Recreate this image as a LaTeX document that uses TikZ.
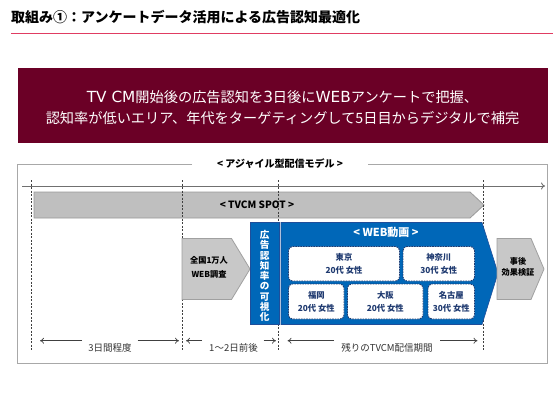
\documentclass[tikz,border=0pt]{standalone}
\usepackage{fontspec}
\setmainfont{Noto Sans CJK JP}
\newfontfamily\latwfont{DejaVu Sans}
\newcommand\latwide[1]{{\latwfont\fontsize{15.3}{21.6}\selectfont #1}}
\usetikzlibrary{arrows.meta}
\definecolor{maroonbox}{HTML}{6B0026}
\definecolor{titleline}{HTML}{E03C62}
\definecolor{framegray}{HTML}{A8A8A8}
\definecolor{axisgray}{HTML}{707070}
\definecolor{dashgray}{HTML}{404040}
\definecolor{barfill}{HTML}{BFBFBF}
\definecolor{bardraw}{HTML}{9A9A9A}
\definecolor{pentfill}{HTML}{C8C8C8}
\definecolor{pentdraw}{HTML}{A0A0A0}
\definecolor{webblue}{HTML}{0067B8}
\definecolor{bluedark}{HTML}{1F4E9A}
\definecolor{navytext}{HTML}{1F3A70}
\definecolor{labeltext}{HTML}{333333}
\tikzset{
  fnt/.style={font=\fontsize{#1}{#1}\selectfont},
  bfnt/.style={font=\bfseries\fontsize{#1}{#1}\selectfont},
  vline/.style={dashgray, line width=0.8pt, dash pattern=on 2pt off 1.5pt},
  innerbox/.style={draw=navytext, dashed, dash pattern=on 1.6pt off 1pt, line width=0.9pt, fill=white, rounded corners=4pt},
  innertext/.style={navytext, align=center, font=\bfseries\fontsize{8.3}{13}\selectfont, inner sep=0pt},
  spanarrow/.style={dashgray, line width=0.7pt, -{To[length=4pt,width=6pt]}},
  spantext/.style={labeltext, font=\fontsize{9.5}{10}\selectfont, inner sep=0pt},
  pent/.style={fill=pentfill, draw=pentdraw, line width=0.8pt},
}
\begin{document}
\begin{tikzpicture}[x=1pt,y=-1pt]
\useasboundingbox[fill=white] (0,0) rectangle (560,420);

% title
\node[anchor=west, inner sep=0pt, font=\bfseries\fontsize{14}{16}\selectfont] (title) at (11,17) {取組み①：アンケートデータ活用による広告認知最適化};
\coordinate (tl1) at (11,33.5);
\coordinate (tl2) at (553,33.5);
\draw[titleline, line width=1pt] (tl1) -- (tl2);

% message box
\path[fill=maroonbox] (17.5,68.5) rectangle (547.5,142.5);
\node[white, align=center, inner sep=0pt, font=\fontsize{14.2}{21.6}\selectfont] (msg) at (282.5,107.5)
  {\latwide{TV CM}開始後の広告認知を\latwide{3}日後に\latwide{WEB}アンケートで把握、\\認知率が低いエリア、年代をターゲティングして5日目からデジタルで補完};

% outer frame
\draw[framegray, line width=0.9pt] (192,164) -- (17.5,164) -- (17.5,363) -- (547.5,363) -- (547.5,164) -- (368,164);
\node[bfnt=10, inner sep=0pt] (model) at (280,164) {< アジャイル型配信モデル >};

% axis
\coordinate (ax1) at (22,186);
\coordinate (ax2) at (545,186);
\draw[axisgray, line width=0.9pt, -{To[length=4pt,width=7pt]}] (ax1) -- (ax2);

% TVCM bar
\draw[fill=barfill, draw=bardraw, line width=0.8pt] (34,192) -- (470,192) -- (484,205) -- (470,218) -- (34,218) -- cycle;
\node[bfnt=10, inner sep=0pt] (tvcm) at (257,205) {< TVCM SPOT >};

% dashed vertical lines
\foreach \xx/\nm in {31.5/d1,182/d2,278.5/d3,483.5/d4}{
  \coordinate (\nm t) at (\xx,180);
  \coordinate (\nm b) at (\xx,351);
  \draw[vline] (\nm t) -- (\nm b);
}

% survey pentagon
\draw[pent] (182,238.5) -- (231.5,238.5) -- (250,269) -- (231.5,299.5) -- (182,299.5) -- cycle;
\node[align=center, font=\bfseries\fontsize{8.2}{13.5}\selectfont, inner sep=0pt] (survey) at (209,267.5) {全国1万人\\WEB調査};

% visualisation box
\path[fill=webblue, draw=bluedark, line width=0.6pt] (250.5,222.5) rectangle (279,324.5);
\node[white, align=center, font=\bfseries\fontsize{9.6}{10.25}\selectfont, inner sep=0pt] (vis) at (264.7,276)
  {広\\告\\認\\知\\率\\の\\可\\視\\化};

% WEB arrow
\draw[fill=webblue, draw=bluedark, line width=0.6pt] (281,222.5) -- (482,222.5) -- (498,273) -- (482,324.5) -- (281,324.5) -- cycle;
\node[white, bfnt=11, inner sep=0pt] (web) at (386,232.5) {< WEB動画 >};

% inner boxes
\path[innerbox] (288.5,246.5) rectangle (399.5,281);
\node[innertext] (tokyo) at (344,263.8) {東京\\20代 女性};
\path[innerbox] (403,246.5) rectangle (474.5,281);
\node[innertext] (kanagawa) at (438.8,263.8) {神奈川\\30代 女性};
\path[innerbox] (288.5,284) rectangle (344,319);
\node[innertext] (fukuoka) at (316.3,301.5) {福岡\\20代 女性};
\path[innerbox] (347.5,284) rectangle (423,319);
\node[innertext] (osaka) at (385.3,301.5) {大阪\\20代 女性};
\path[innerbox] (428,284) rectangle (474.5,319);
\node[innertext] (nagoya) at (451.3,301.5) {名古屋\\30代 女性};

% after pentagon
\draw[pent] (497,238.5) -- (531,238.5) -- (544,269) -- (531,299.5) -- (497,299.5) -- cycle;
\node[align=center, font=\bfseries\fontsize{8.2}{11.5}\selectfont, inner sep=0pt] (after) at (518,267) {事後\\効果検証};

% bottom spans
\node[spantext] (s1) at (110,348) {3日間程度};
\coordinate (s1la) at (82,340.7); \coordinate (s1lb) at (40,340.7);
\coordinate (s1ra) at (137.5,340.7); \coordinate (s1rb) at (179,340.7);
\draw[spanarrow] (s1la) -- (s1lb);
\draw[spanarrow] (s1ra) -- (s1rb);

\node[spantext] (s2) at (233.5,348) {1～2日前後};
\coordinate (s2la) at (202,340.7); \coordinate (s2lb) at (186,340.7);
\coordinate (s2ra) at (263.5,340.7); \coordinate (s2rb) at (276,340.7);
\draw[spanarrow] (s2la) -- (s2lb);
\draw[spanarrow] (s2ra) -- (s2rb);

\node[spantext] (s3) at (387,348) {残りのTVCM配信期間};
\coordinate (s3la) at (334,340.7); \coordinate (s3lb) at (287.5,340.7);
\coordinate (s3ra) at (440,340.7); \coordinate (s3rb) at (477.5,340.7);
\draw[spanarrow] (s3la) -- (s3lb);
\draw[spanarrow] (s3ra) -- (s3rb);
\end{tikzpicture}
\end{document}
